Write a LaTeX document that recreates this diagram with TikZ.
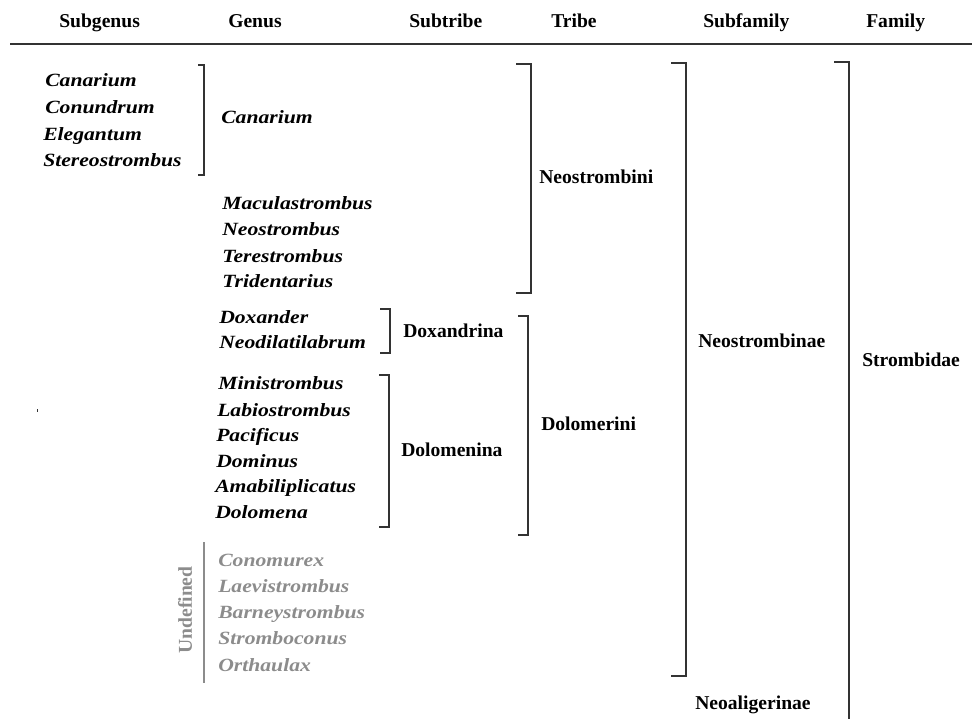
\documentclass[tikz,border=0pt]{standalone}
\usepackage{fontspec}
\setmainfont{Liberation Serif}
\newfontfamily\namefont{Liberation Serif}[FakeStretch=1.16]
\definecolor{inkgray}{HTML}{333333}
\definecolor{undefgray}{HTML}{8C8C8C}

\begin{document}
\begin{tikzpicture}[x=0.75pt, y=-0.75pt,
		hdr/.style={anchor=base west, inner sep=0pt, font=\fontsize{14.7}{16}\selectfont\bfseries},
		taxon/.style={anchor=base west, inner sep=0pt, font=\fontsize{14.7}{16}\selectfont\bfseries},
		gen/.style={anchor=base west, inner sep=0pt, font=\fontsize{14}{16}\namefont\bfseries\itshape},
		undef/.style={gen, text=undefgray},
		brk/.style={draw=inkgray, line width=1.1pt}]

		\useasboundingbox (0,0) rectangle (972,719);

		% column heads and rule
		\node[hdr] (hSubgenus) at (59,27) {Subgenus};
		\node[hdr] (hGenus) at (228,27) {Genus};
		\node[hdr] (hSubtribe) at (409,27) {Subtribe};
		\node[hdr] (hTribe) at (551,27) {Tribe};
		\node[hdr] (hSubfamily) at (703,27) {Subfamily};
		\node[hdr] (hFamily) at (866,27) {Family};
		\coordinate (ruleL) at (10,44);
		\coordinate (ruleR) at (972,44);
		\draw[draw=inkgray, line width=1.6pt] (ruleL) -- (ruleR);

		% subgenera of Canarium
		\node[gen] (sCanarium) at (45,86) {Canarium};
		\node[gen] (sConundrum) at (45,113) {Conundrum};
		\node[gen] (sElegantum) at (43,140) {Elegantum};
		\node[gen] (sStereo) at (43,166) {Stereostrombus};

		% genera
		\node[gen] (gCanarium) at (221,123) {Canarium};
		\node[gen] (gMacula) at (222,209) {Maculastrombus};
		\node[gen] (gNeostrombus) at (222,235) {Neostrombus};
		\node[gen] (gTerestrombus) at (222,262) {Terestrombus};
		\node[gen] (gTridentarius) at (222,287) {Tridentarius};

		\node[gen] (gDoxander) at (219,323) {Doxander};
		\node[gen] (gNeodil) at (219,348) {Neodilatilabrum};

		\node[gen] (gMinistrombus) at (218,389) {Ministrombus};
		\node[gen] (gLabiostrombus) at (217,416) {Labiostrombus};
		\node[gen] (gPacificus) at (216,441) {Pacificus};
		\node[gen] (gDominus) at (216,467) {Dominus};
		\node[gen] (gAmabili) at (215,492) {Amabiliplicatus};
		\node[gen] (gDolomena) at (215,518) {Dolomena};

		% undefined genera
		\node[undef] (uConomurex) at (218,566) {Conomurex};
		\node[undef] (uLaevi) at (218,592) {Laevistrombus};
		\node[undef] (uBarney) at (218,618) {Barneystrombus};
		\node[undef] (uStrombo) at (218,644) {Stromboconus};
		\node[undef] (uOrthaulax) at (218,671) {Orthaulax};
		\node[taxon, anchor=center, rotate=90, text=undefgray] (undefined) at (185,610) {Undefined};
		\coordinate (undefT) at (204,542);
		\coordinate (undefB) at (204,683);
		\draw[draw=undefgray, line width=1pt] (undefT) -- (undefB);

		% subtribes, tribes, subfamilies, family
		\node[taxon] (Doxandrina) at (403,337) {Doxandrina};
		\node[taxon] (Dolomenina) at (401,456) {Dolomenina};
		\node[taxon] (Neostrombini) at (539,183) {Neostrombini};
		\node[taxon] (Dolomerini) at (541,430) {Dolomerini};
		\node[taxon] (Neostrombinae) at (698,347) {Neostrombinae};
		\node[taxon] (Neoaligerinae) at (695,709) {Neoaligerinae};
		\node[taxon] (Strombidae) at (862,366) {Strombidae};

		% brackets
		\coordinate (canT) at (204,65);
		\coordinate (canB) at (204,175);
		\draw[brk] (canT) ++(-6,0) -- (canT) -- (canB) -- ++(-6,0);

		\coordinate (doxT) at (390,309);
		\coordinate (doxB) at (390,353);
		\draw[brk] (doxT) ++(-10,0) -- (doxT) -- (doxB) -- ++(-10,0);

		\coordinate (dolT) at (389,375);
		\coordinate (dolB) at (389,527);
		\draw[brk] (dolT) ++(-10,0) -- (dolT) -- (dolB) -- ++(-10,0);

		\coordinate (neoT) at (531,64);
		\coordinate (neoB) at (531,293);
		\draw[brk] (neoT) ++(-15,0) -- (neoT) -- (neoB) -- ++(-15,0);

		\coordinate (dmrT) at (528,316);
		\coordinate (dmrB) at (528,535);
		\draw[brk] (dmrT) ++(-10,0) -- (dmrT) -- (dmrB) -- ++(-10,0);

		\coordinate (sfT) at (686,63);
		\coordinate (sfB) at (686,676);
		\draw[brk] (sfT) ++(-15,0) -- (sfT) -- (sfB) -- ++(-15,0);

		\coordinate (famT) at (849,62);
		\coordinate (famB) at (849,719);
		\draw[brk] (famT) ++(-15,0) -- (famT) -- (famB);

		% stray mark
		\fill[inkgray] (36.5,408.5) rectangle (38,411.5);

	\end{tikzpicture}
\end{document}
